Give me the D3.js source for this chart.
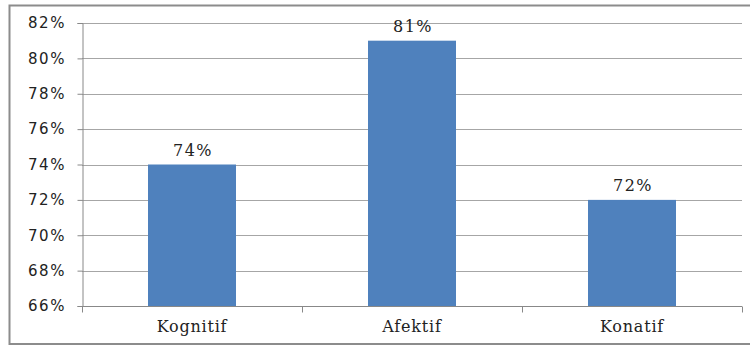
<!DOCTYPE html>
<html><head><meta charset="utf-8">
<script src="https://cdn.jsdelivr.net/npm/d3@7"></script>
<style>body{margin:0;background:#fff;} svg{display:block;}</style>
</head><body>
<svg id="c" width="750" height="345"></svg>
<script>
const categories = ["Kognitif", "Afektif", "Konatif"];
const values = [0.74, 0.81, 0.72];
const yTicks = [0.66, 0.68, 0.70, 0.72, 0.74, 0.76, 0.78, 0.80, 0.82];

const svg = d3.select("#c");
const m = {left: 82, right: 742, top: 23, bottom: 306};

// outer border
svg.append("rect").attr("x", 9.5).attr("y", 5.5).attr("width", 760).attr("height", 338.5)
  .attr("fill", "none").attr("stroke", "#8c8c8c").attr("stroke-width", 2);

const x = d3.scaleBand().domain(categories).range([m.left, m.right]).paddingInner(0.6).paddingOuter(0.3);
const y = d3.scaleLinear().domain([0.66, 0.82]).range([m.bottom, m.top]);

// gridlines
svg.append("g").selectAll("line").data(yTicks.slice(1)).join("line")
  .attr("x1", m.left).attr("x2", m.right)
  .attr("y1", d => Math.round(y(d)) + 0.5).attr("y2", d => Math.round(y(d)) + 0.5)
  .attr("stroke", "#a6a6a6").attr("stroke-width", 1);

// bars
svg.append("g").selectAll("rect").data(values).join("rect")
  .attr("x", (d, i) => x(categories[i]))
  .attr("width", x.bandwidth())
  .attr("y", d => y(d))
  .attr("height", d => y(0.66) - y(d))
  .attr("fill", "#4f81bd");

// y axis
const yAxis = d3.axisLeft(y).tickValues(yTicks).tickSize(5).tickPadding(13)
  .tickFormat(d3.format(".0%"));
const gy = svg.append("g").attr("transform", `translate(${m.left + 0.5},0)`).call(yAxis);
gy.select(".domain").attr("stroke", "#888");
gy.selectAll(".tick line").attr("stroke", "#888");
gy.selectAll("text").attr("font-family", "DejaVu Sans").attr("font-size", 15)
  .attr("letter-spacing", "1.6px").attr("fill", "#222").attr("dx", "1.6px");

// x axis with boundary ticks
const gx = svg.append("g").attr("transform", `translate(0,${m.bottom + 0.5})`);
gx.append("line").attr("x1", m.left).attr("x2", m.right).attr("stroke", "#888");
const step = (m.right - m.left) / categories.length;
gx.selectAll("line.b").data(d3.range(categories.length + 1)).join("line").attr("class", "b")
  .attr("x1", i => Math.round(m.left + i * step) + 0.5).attr("x2", i => Math.round(m.left + i * step) + 0.5)
  .attr("y1", 0).attr("y2", 6).attr("stroke", "#888");
gx.selectAll("text").data(categories).join("text")
  .attr("x", d => x(d) + x.bandwidth() / 2).attr("y", 25)
  .attr("text-anchor", "middle").attr("font-family", "DejaVu Serif").attr("font-size", 16)
  .attr("letter-spacing", "0.8px").attr("fill", "#222").text(d => d);

// data labels
svg.append("g").selectAll("text").data(values).join("text")
  .attr("x", (d, i) => x(categories[i]) + x.bandwidth() / 2 + 1)
  .attr("y", d => y(d) - 9)
  .attr("text-anchor", "middle").attr("font-family", "DejaVu Serif").attr("font-size", 16)
  .attr("letter-spacing", "1.5px").attr("fill", "#222")
  .text(d => d3.format(".0%")(d));
</script>
</body></html>
